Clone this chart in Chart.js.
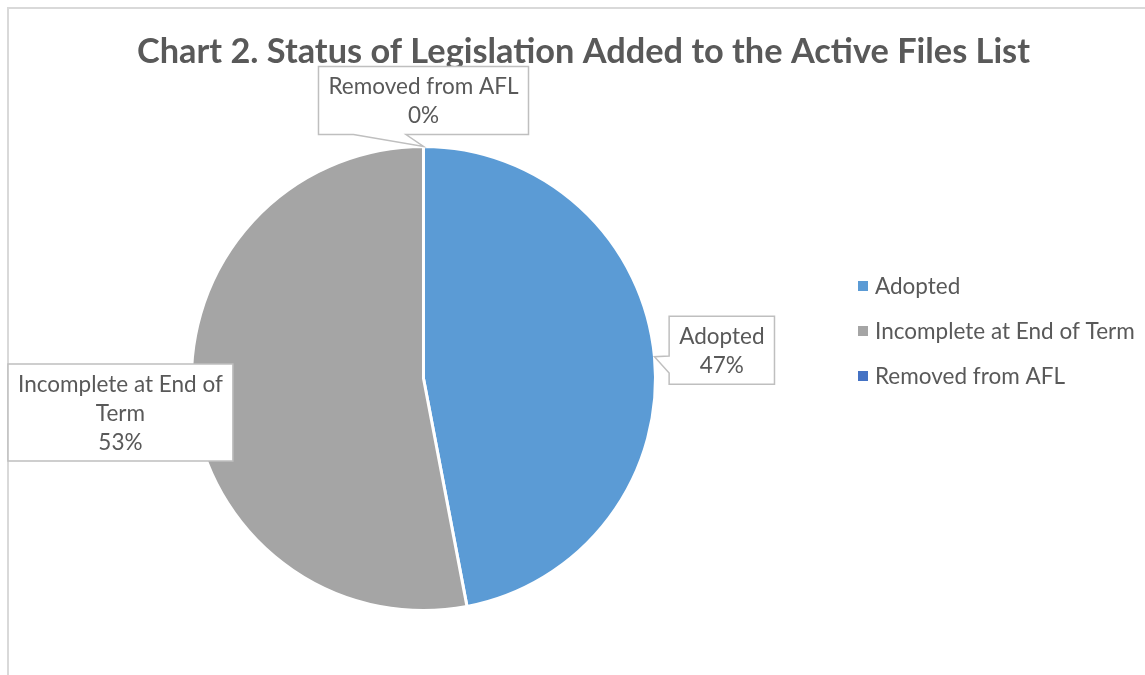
<!DOCTYPE html>
<html>
<head>
<meta charset="utf-8">
<script src="https://cdn.jsdelivr.net/npm/chart.js@4.4.0/dist/chart.umd.min.js"></script>
<style>
  html, body { margin: 0; padding: 0; background: #fff; }
  #wrap { position: relative; width: 1145px; height: 675px; overflow: hidden; }
  #frame { position: absolute; left: 7px; top: 7px; width: 1200px; height: 700px;
           border-top: 2px solid #d9d9d9; border-left: 2px solid #d9d9d9; }
  canvas { position: absolute; left: 0; top: 0; }
</style>
</head>
<body>
<div id="wrap">
  <div id="frame"></div>
  <canvas id="statusPie" width="1145" height="675"></canvas>
</div>
<script>
// Chart data
const chartTitle = 'Chart 2. Status of Legislation Added to the Active Files List';
const categories = ['Adopted', 'Incomplete at End of Term', 'Removed from AFL'];
const shares = [47, 53, 0];
const sliceColors = ['#5B9BD5', '#A5A5A5', '#4472C4'];

const textColor = '#595959';
const fontFamily = 'Lato, "Open Sans", sans-serif';

// pick a font size so a string comes out at a given width
function fitSize(ctx, text, weight, target) {
  ctx.font = weight + ' 100px ' + fontFamily;
  return 100 * target / ctx.measureText(text).width;
}

function wrapText(ctx, text, maxWidth) {
  const words = text.split(' ');
  const lines = [];
  let line = '';
  words.forEach(w => {
    const test = line ? line + ' ' + w : w;
    if (line && ctx.measureText(test).width > maxWidth) {
      lines.push(line);
      line = w;
    } else {
      line = test;
    }
  });
  if (line) lines.push(line);
  return lines;
}

// rectangle callout with a wedge pointing at the slice
function calloutPath(ctx, L, T, W, H, tip) {
  const cx = L + W / 2, cy = T + H / 2;
  const dx = tip.x - cx, dy = tip.y - cy;
  let side = null;
  if (tip.x < L || tip.x > L + W || tip.y < T || tip.y > T + H) {
    side = Math.abs(dx) / W > Math.abs(dy) / H ? (dx < 0 ? 'left' : 'right') : (dy < 0 ? 'top' : 'bottom');
  }
  const a = dx <= 0 ? 1 / 6 : 7 / 12, b = dx <= 0 ? 5 / 12 : 5 / 6;
  const c = dy <= 0 ? 1 / 6 : 7 / 12, e = dy <= 0 ? 5 / 12 : 5 / 6;
  ctx.beginPath();
  ctx.moveTo(L, T);
  if (side === 'top') { ctx.lineTo(L + W * a, T); ctx.lineTo(tip.x, tip.y); ctx.lineTo(L + W * b, T); }
  ctx.lineTo(L + W, T);
  if (side === 'right') { ctx.lineTo(L + W, T + H * c); ctx.lineTo(tip.x, tip.y); ctx.lineTo(L + W, T + H * e); }
  ctx.lineTo(L + W, T + H);
  if (side === 'bottom') { ctx.lineTo(L + W * b, T + H); ctx.lineTo(tip.x, tip.y); ctx.lineTo(L + W * a, T + H); }
  ctx.lineTo(L, T + H);
  if (side === 'left') { ctx.lineTo(L, T + H * e); ctx.lineTo(tip.x, tip.y); ctx.lineTo(L, T + H * c); }
  ctx.closePath();
}

// Title, legend and data callouts drawn on top of the pie
const excelDecor = {
  id: 'excelDecor',
  afterDatasetsDraw(chart) {
    const ctx = chart.ctx;
    const total = shares.reduce((s, v) => s + v, 0);
    ctx.save();

    // title
    const titleSize = fitSize(ctx, chartTitle, 'bold', 893);
    ctx.font = 'bold ' + titleSize + 'px ' + fontFamily;
    ctx.fillStyle = textColor;
    ctx.textAlign = 'center';
    ctx.textBaseline = 'middle';
    ctx.fillText(chartTitle, 583.5, 52);

    // legend
    const labelSize = fitSize(ctx, categories[1], 'normal', 260);
    const labelFont = labelSize + 'px ' + fontFamily;
    ctx.font = labelFont;
    ctx.textAlign = 'left';
    categories.forEach((name, i) => {
      const y = 286 + i * 45;
      ctx.fillStyle = sliceColors[i];
      ctx.fillRect(858, y - 5, 10, 10);
      ctx.fillStyle = textColor;
      ctx.fillText(name, 875, y + 1);
    });

    // callouts
    const meta = chart.getDatasetMeta(0);
    const lineH = 29, padX = 10, padY = 5, gap = 12;
    meta.data.forEach((arc, i) => {
      const p = arc.getProps(['x', 'y', 'startAngle', 'endAngle', 'outerRadius'], true);
      const mid = (p.startAngle + p.endAngle) / 2;
      const cos = Math.cos(mid), sin = Math.sin(mid);
      const tip = { x: p.x + p.outerRadius * cos, y: p.y + p.outerRadius * sin };

      ctx.font = labelFont;
      const lines = wrapText(ctx, categories[i], 210);
      lines.push(Math.round(shares[i] / total * 100) + '%');
      const textW = Math.max(...lines.map(l => ctx.measureText(l).width));
      const W = textW + 2 * padX;
      const H = lines.length * lineH + 2 * padY;

      const half = Math.abs(cos) * W / 2 + Math.abs(sin) * H / 2;
      const d = p.outerRadius + gap + half;
      let L = p.x + d * cos - W / 2;
      let T = p.y + d * sin - H / 2;
      L = Math.min(Math.max(L, 8), chart.width - 6 - W);
      T = Math.min(Math.max(T, 8), chart.height - 6 - H);

      calloutPath(ctx, L, T, W, H, tip);
      ctx.fillStyle = '#ffffff';
      ctx.fill();
      ctx.strokeStyle = '#bfbfbf';
      ctx.lineWidth = 1.5;
      ctx.stroke();

      ctx.fillStyle = textColor;
      ctx.textAlign = 'center';
      ctx.textBaseline = 'middle';
      lines.forEach((l, k) => {
        ctx.fillText(l, L + W / 2, T + padY + lineH * k + lineH / 2 + 1);
      });
    });

    ctx.restore();
  }
};

const statusChart = new Chart(document.getElementById('statusPie').getContext('2d'), {
  type: 'pie',
  data: {
    labels: categories,
    datasets: [{
      data: shares,
      backgroundColor: sliceColors,
      borderColor: '#ffffff',
      borderWidth: 3
    }]
  },
  options: {
    responsive: false,
    animation: false,
    events: [],
    layout: {
      padding: { left: 190, right: 488, top: 145, bottom: 63 }
    },
    plugins: {
      legend: { display: false },
      title: { display: false },
      tooltip: { enabled: false }
    }
  },
  plugins: [excelDecor]
});
</script>
</body>
</html>
